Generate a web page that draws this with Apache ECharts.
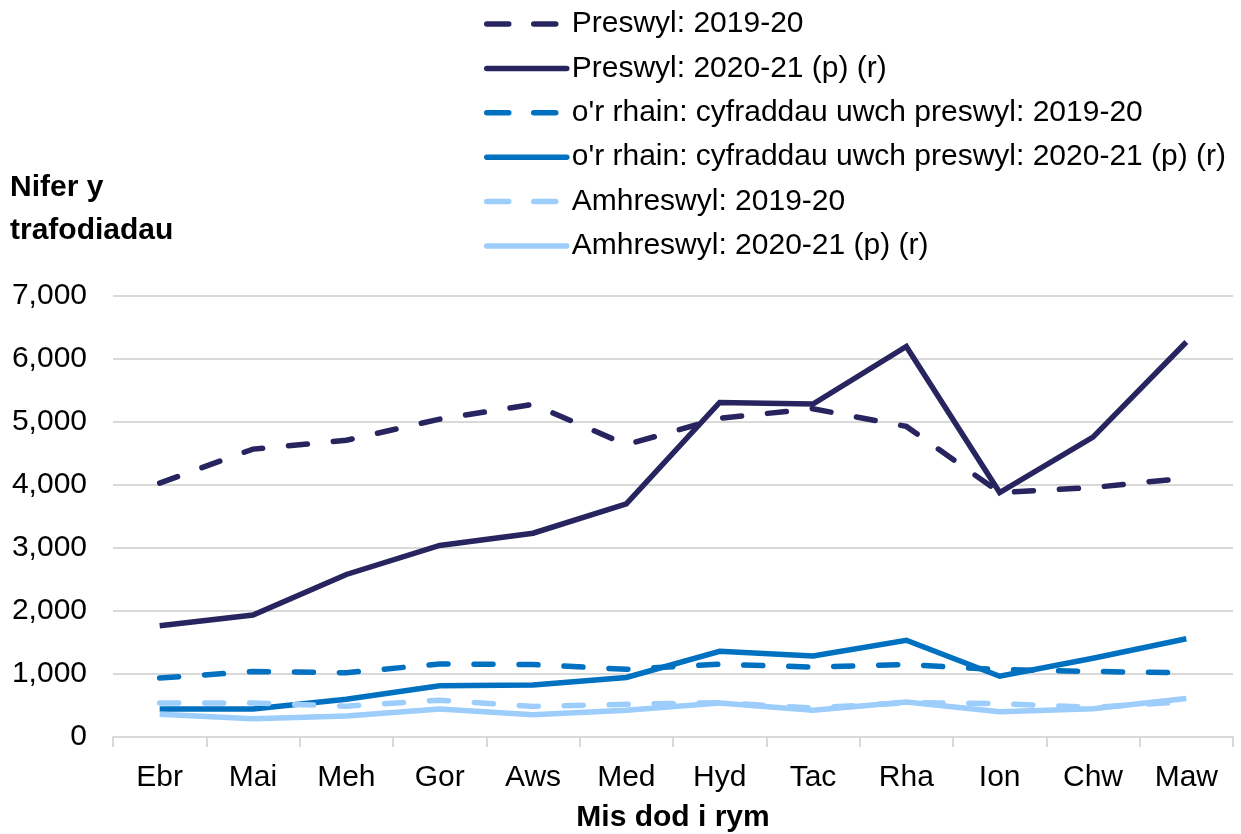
<!DOCTYPE html>
<html>
<head>
<meta charset="utf-8">
<script src="https://cdn.jsdelivr.net/npm/echarts@6/dist/echarts.min.js"></script>
<style>
html,body{margin:0;padding:0;background:#fff;}
#chart{width:1241px;height:834px;}
</style>
</head>
<body>
<div id="chart"></div>
<script>
const categories = ['Ebr','Mai','Meh','Gor','Aws','Med','Hyd','Tac','Rha','Ion','Chw','Maw'];
const seriesNames = [
  'Preswyl: 2019-20',
  'Preswyl: 2020-21 (p) (r)',
  "o'r rhain: cyfraddau uwch preswyl: 2019-20",
  "o'r rhain: cyfraddau uwch preswyl: 2020-21 (p) (r)",
  'Amhreswyl: 2019-20',
  'Amhreswyl: 2020-21 (p) (r)'
];
const preswyl1920 = [4030,4570,4710,5045,5280,4640,5060,5210,4930,3880,3960,4110];
const preswyl2021 = [1765,1935,2580,3040,3235,3700,5310,5285,6200,3880,4760,6270];
const uwch1920 = [935,1040,1020,1160,1150,1075,1155,1110,1150,1070,1040,1020];
const uwch2021 = [445,445,600,815,825,945,1360,1285,1535,965,1250,1560];
const amh1920 = [540,540,490,585,485,520,545,460,545,530,470,560];
const amh2021 = [360,290,335,445,355,425,540,425,555,400,450,610];
const yTicks = [0,1000,2000,3000,4000,5000,6000,7000];

const colDark = '#28245f';
const colMid = '#0070c0';
const colLight = '#9dcdfb';
const seriesColors = [colDark, colDark, colMid, colMid, colLight, colLight];
const seriesDashed = [true, false, true, false, true, false];
const seriesData = [preswyl1920, preswyl2021, uwch1920, uwch2021, amh1920, amh2021];

function mk(i) {
  const dashed = seriesDashed[i];
  return {
    name: seriesNames[i],
    type: 'line',
    data: seriesData[i],
    symbol: 'none',
    smooth: false,
    lineStyle: {
      color: seriesColors[i],
      width: 5.5,
      type: dashed ? [19, 26] : 'solid',
      cap: dashed ? 'round' : 'butt',
      join: 'miter'
    },
    itemStyle: { color: seriesColors[i] },
    emphasis: { disabled: true }
  };
}

const legendData = seriesNames.map((n, i) => ({
  name: n,
  itemStyle: { color: 'transparent', borderWidth: 0, opacity: 0 },
  lineStyle: {
    color: seriesColors[i],
    width: 5.5,
    type: seriesDashed[i] ? [22, 25] : 'solid',
    cap: 'round'
  }
}));

const chart = echarts.init(document.getElementById('chart'));
chart.setOption({
  animation: false,
  textStyle: { fontFamily: 'Arial, "Liberation Sans", sans-serif' },
  title: {
    text: 'Nifer y\ntrafodiadau',
    left: 10,
    top: 166,
    padding: 0,
    textStyle: { fontSize: 30, fontWeight: 'bold', color: '#000', lineHeight: 43, fontFamily: 'Arial, "Liberation Sans", sans-serif' }
  },
  legend: {
    orient: 'vertical',
    left: 484,
    top: 9,
    padding: 0,
    itemWidth: 80,
    itemHeight: 30,
    itemGap: 14.4,
    selectedMode: false,
    textStyle: { fontSize: 30, color: '#000' },
    data: legendData
  },
  grid: { left: 113, right: 8, top: 296, bottom: 97, containLabel: false, outerBoundsMode: 'none' },
  xAxis: {
    type: 'category',
    data: categories,
    boundaryGap: true,
    name: 'Mis dod i rym',
    nameLocation: 'middle',
    nameGap: 66,
    nameTextStyle: { fontSize: 30, fontWeight: 'bold', color: '#000' },
    axisLine: { show: true, lineStyle: { color: '#d9d9d9', width: 2 } },
    axisTick: { show: true, length: 10, lineStyle: { color: '#d9d9d9', width: 2 } },
    axisLabel: { fontSize: 30, color: '#000', margin: 26 }
  },
  yAxis: {
    type: 'value',
    min: yTicks[0],
    max: yTicks[yTicks.length - 1],
    interval: 1000,
    axisLine: { show: false },
    axisTick: { show: false },
    splitLine: { show: true, lineStyle: { color: '#d9d9d9', width: 2 } },
    axisLabel: {
      fontSize: 30, color: '#000', margin: 26,
      formatter: v => v.toLocaleString('en-US')
    }
  },
  series: [0,1,2,3,4,5].map(mk)
});
</script>
</body>
</html>
